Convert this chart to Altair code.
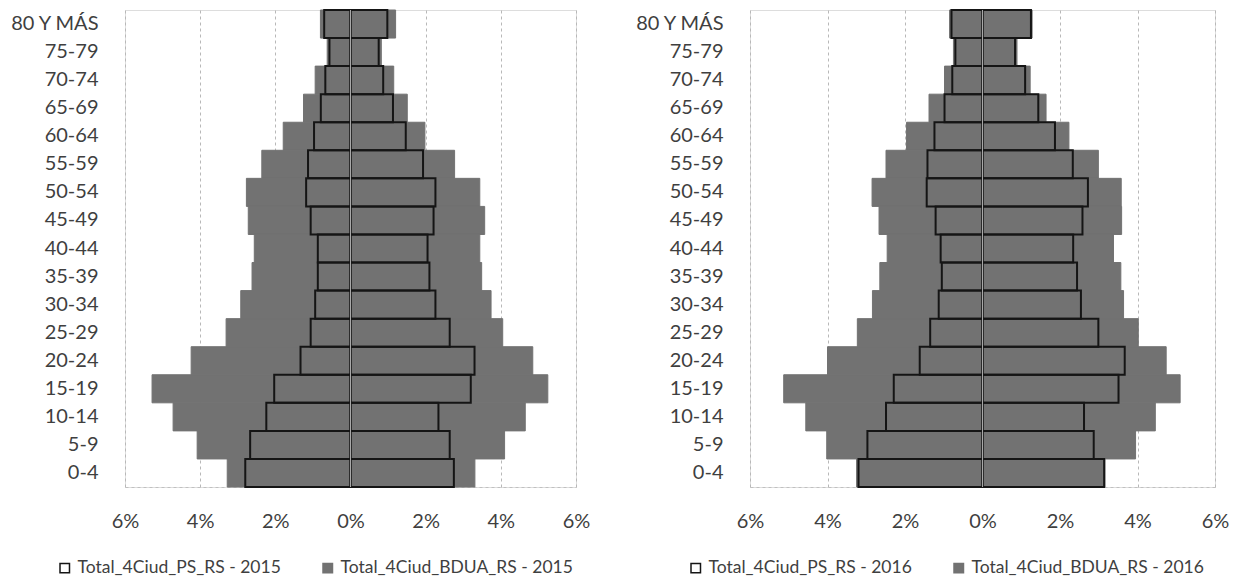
import altair as alt
import pandas as pd

ages = ["80 Y MÁS", "75-79", "70-74", "65-69", "60-64", "55-59", "50-54", "45-49",
        "40-44", "35-39", "30-34", "25-29", "20-24", "15-19", "10-14", "5-9", "0-4"]

# 2015 (left side = magnitude to the left of 0, right side = to the right)
bdua15_left = [0.80, 0.62, 0.94, 1.25, 1.79, 2.36, 2.77, 2.72, 2.56, 2.62, 2.92, 3.31, 4.24, 5.28, 4.72, 4.08, 3.28]
bdua15_right = [1.20, 0.82, 1.15, 1.51, 1.98, 2.77, 3.44, 3.57, 3.44, 3.49, 3.74, 4.05, 4.85, 5.25, 4.65, 4.10, 3.31]
ps15_left = [0.70, 0.56, 0.67, 0.79, 0.97, 1.13, 1.18, 1.06, 0.87, 0.87, 0.94, 1.06, 1.33, 2.03, 2.24, 2.67, 2.80]
ps15_right = [0.98, 0.75, 0.87, 1.13, 1.47, 1.93, 2.26, 2.21, 2.05, 2.10, 2.26, 2.64, 3.30, 3.20, 2.34, 2.64, 2.75]

# 2016
bdua16_left = [0.85, 0.75, 0.98, 1.38, 1.96, 2.49, 2.85, 2.67, 2.46, 2.65, 2.84, 3.23, 4.00, 5.13, 4.56, 4.02, 3.25]
bdua16_right = [1.28, 0.89, 1.23, 1.64, 2.23, 2.99, 3.58, 3.59, 3.38, 3.57, 3.64, 4.02, 4.74, 5.10, 4.46, 3.95, 3.16]
ps16_left = [0.80, 0.70, 0.78, 0.98, 1.24, 1.42, 1.44, 1.21, 1.08, 1.05, 1.13, 1.35, 1.62, 2.29, 2.49, 2.97, 3.20]
ps16_right = [1.25, 0.84, 1.10, 1.44, 1.87, 2.33, 2.72, 2.58, 2.34, 2.44, 2.54, 2.99, 3.67, 3.51, 2.62, 2.87, 3.14]

x_ticks = [-6, -4, -2, 0, 2, 4, 6]

GRAY = "#727272"
TEXT = "#3f3f3f"
FONT = "Lato"


def build(ps_l, ps_r, bd_l, bd_r, ps_name, bd_name):
    rows = []
    for i, a in enumerate(ages):
        rows.append({"age": a, "serie": bd_name, "val": -bd_l[i]})
        rows.append({"age": a, "serie": bd_name, "val": bd_r[i]})
        rows.append({"age": a, "serie": ps_name, "val": -ps_l[i]})
        rows.append({"age": a, "serie": ps_name, "val": ps_r[i]})
    return pd.DataFrame(rows)


def panel(df, ps_name, bd_name, width, legend_x):
    domain = [ps_name, bd_name]
    leg = alt.Legend(title=None, orient="none", legendX=legend_x, legendY=549,
                     direction="horizontal", symbolType="square", symbolSize=90,
                     symbolStrokeWidth=1.5, labelFontSize=17.5, labelColor=TEXT,
                     labelFont=FONT, columnPadding=38, labelOffset=4, labelLimit=400)
    fill = alt.Fill("serie:N", scale=alt.Scale(domain=domain, range=["transparent", GRAY]), legend=leg)
    stroke = alt.Stroke("serie:N", scale=alt.Scale(domain=domain, range=["#151515", GRAY]), legend=leg)
    x = alt.X("val:Q", stack=None,
              scale=alt.Scale(domain=[-6, 6], nice=False, zero=False),
              axis=alt.Axis(values=x_ticks, labelExpr="abs(datum.value) + '%'", title=None,
                            grid=True, gridDash=[3, 3], gridColor="#b8b8b8", gridWidth=1,
                            domain=True, domainDash=[3, 3], domainColor="#c0c0c0",
                            ticks=False, labelPadding=24, labelFontSize=20, labelFlush=False,
                            labelBound=False, labelColor=TEXT, labelFont=FONT))
    y = alt.Y("age:N", sort=ages,
              scale=alt.Scale(paddingInner=0, paddingOuter=0),
              axis=alt.Axis(title=None, ticks=False, domain=False, labelPadding=27,
                            labelFontSize=20, labelColor=TEXT, labelFont=FONT))
    base = alt.Chart(df)
    bd = base.transform_filter(alt.datum.serie == bd_name).mark_bar(strokeWidth=1).encode(
        x=x, y=y, fill=fill, stroke=stroke)
    ps = base.transform_filter(alt.datum.serie == ps_name).mark_bar(strokeWidth=2).encode(
        x=x, y=y, fill=fill, stroke=stroke)
    center = alt.Chart(pd.DataFrame({"z": [0]})).mark_rule(color="#a8a8a8", strokeWidth=1).encode(
        x=alt.X("z:Q"))
    return alt.layer(bd, ps, center).properties(width=width, height=477).resolve_scale(
        fill="shared", stroke="shared")


PS15 = "Total_4Ciud_PS_RS - 2015"
BD15 = "Total_4Ciud_BDUA_RS - 2015"
PS16 = "Total_4Ciud_PS_RS - 2016"
BD16 = "Total_4Ciud_BDUA_RS - 2016"

df15 = build(ps15_left, ps15_right, bdua15_left, bdua15_right, PS15, BD15)
df16 = build(ps16_left, ps16_right, bdua16_left, bdua16_right, PS16, BD16)

left = panel(df15, PS15, BD15, 451, -69)
right = panel(df16, PS16, BD16, 465, -63)

chart = alt.hconcat(left, right, spacing=42).resolve_scale(
    fill="independent", stroke="independent", x="independent", y="independent"
).properties(padding={"left": 0, "top": 0, "right": 0, "bottom": 0}).configure_view(
    stroke=None
).configure(font=FONT, background="white")

chart.save("out.html", embed_options={"renderer": "svg", "actions": False})
